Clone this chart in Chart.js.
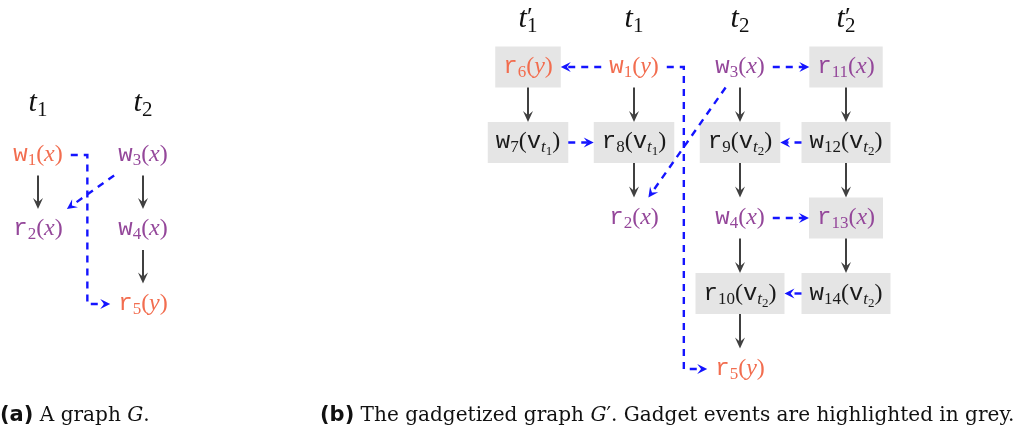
<!DOCTYPE html>
<html>
<head>
<meta charset="utf-8">
<script src="https://cdn.jsdelivr.net/npm/chart.js@4.4.1/dist/chart.umd.min.js"></script>
<style>
  body { margin: 0; background: #fff; }
  canvas { display: block; }
</style>
</head>
<body>
<canvas id="fig" width="1021" height="434"></canvas>
<script>
// (a) the graph G
const aHeaders = ['t1', 't2'];
const aLabels = ['w1(x)', 'r2(x)', 'w3(x)', 'w4(x)', 'r5(y)'];
const aCols = [0, 0, 1, 1, 1];
const aRows = [1, 2, 1, 2, 3];
const aTone = ['o', 'p', 'p', 'p', 'o'];           // o = orange, p = purple, k = black
const aGadget = [false, false, false, false, false];
const aOrder = [[0, 1], [2, 3], [3, 4]];          // black arrows
const aFlow = [[2, 1]];                            // blue dashed arrows
const aFlowRouted = [[0, 4, 0.47]];                // blue dashed, via column

// (b) the gadgetized graph G'
const bHeaders = ["t'1", 't1', 't2', "t'2"];
const bLabels = ['r6(y)', 'w1(y)', 'w3(x)', 'r11(x)',
                 'w7(vt1)', 'r8(vt1)', 'r9(vt2)', 'w12(vt2)',
                 'r2(x)', 'w4(x)', 'r13(x)',
                 'r10(vt2)', 'w14(vt2)',
                 'r5(y)'];
const bCols = [0, 1, 2, 3,  0, 1, 2, 3,  1, 2, 3,  2, 3,  2];
const bRows = [1, 1, 1, 1,  2, 2, 2, 2,  3, 3, 3,  4, 4,  5];
const bTone = ['o', 'o', 'p', 'p',  'k', 'k', 'k', 'k',  'p', 'p', 'p',  'k', 'k',  'o'];
const bGadget = [true, false, false, true,  true, true, true, true,
                 false, false, true,  true, true,  false];
const bOrder = [[0, 4], [1, 5], [5, 8], [2, 6], [6, 9], [9, 11], [11, 13],
                [3, 7], [7, 10], [10, 12]];
const bFlow = [[1, 0], [2, 3], [4, 5], [7, 6], [9, 10], [12, 11], [2, 8]];
const bFlowRouted = [[1, 13, 1.47]];

const captionA = ['(a)', 'A graph ', 'G', '.'];
const captionB = ['(b)', 'The gadgetized graph ', 'G', '′', '. Gadget events are highlighted in grey.'];

const S = 24;          // node label size
const SUB = 17;
const PAD = 8;         // inner sep of nodes
const HALF_H = 20.5;
const TONES = { p: '#94479a', o: '#f26d4f', k: '#1a1a1a' };
const BOX = '#e5e5e5';
const BLACK = { color: '#404040', width: 2, dash: [], head: 11, half: 5 };
const BLUE = { color: '#1414ff', width: 2.4, dash: [7, 6], head: 10, half: 5 };

function fontOf(r) {
  switch (r.k) {
    case 'tt': return r.s + 'px "Liberation Mono", "Courier New", Courier, monospace';
    case 'it': return 'italic ' + r.s + 'px "Liberation Serif", serif';
    case 'bf': return 'bold ' + r.s + 'px "DejaVu Sans", sans-serif';
    case 'cap': return r.s + 'px "DejaVu Serif", serif';
    case 'capit': return 'italic ' + r.s + 'px "DejaVu Serif", serif';
    default: return r.s + 'px "Liberation Serif", serif';
  }
}

function labelRuns(label) {
  const m = label.match(/^([wr])(\d+)\((\w+)\)$/);
  const arg = m[3];
  const runs = [
    { t: m[1], k: 'tt', s: S },
    { t: m[2], k: 'rm', s: SUB, dy: 4 },
    { t: '(', k: 'rm', s: S }
  ];
  if (arg[0] === 'v') {
    runs.push({ t: 'v', k: 'tt', s: S },
              { t: 't', k: 'it', s: SUB, dy: 4 },
              { t: arg.slice(2), k: 'rm', s: 13, dy: 7 });
  } else {
    runs.push({ t: arg, k: 'it', s: S });
  }
  runs.push({ t: ')', k: 'rm', s: S });
  return runs;
}

function headerRuns(h) {
  const m = h.match(/^t('?)(\d)$/);
  const runs = [{ t: 't', k: 'it', s: 30 }];
  if (m[1]) runs.push({ t: '′', k: 'rm', s: 26, dy: -2, stack: true });
  runs.push({ t: m[2], k: 'rm', s: 21, dy: 5 });
  return runs;
}

function layoutRuns(ctx, runs) {
  let x = 0, pend = 0;
  const placed = [];
  runs.forEach(r => {
    ctx.font = fontOf(r);
    const w = ctx.measureText(r.t).width;
    placed.push({ r, x });
    if (r.stack) pend = w;
    else { x += Math.max(w, pend); pend = 0; }
  });
  return { placed, width: x };
}

function drawRuns(ctx, runs, x, y, color, center) {
  const L = layoutRuns(ctx, runs);
  const x0 = center ? x - L.width / 2 : x;
  ctx.fillStyle = color;
  ctx.textAlign = 'left';
  ctx.textBaseline = 'alphabetic';
  L.placed.forEach(p => {
    ctx.font = fontOf(p.r);
    ctx.fillText(p.r.t, x0 + p.x, y + (p.r.dy || 0));
  });
  return L.width;
}

function boxExit(n, dx, dy) {
  const tx = dx ? n.hw / Math.abs(dx) : Infinity;
  const ty = dy ? n.hh / Math.abs(dy) : Infinity;
  const t = Math.min(tx, ty);
  return [n.cx + dx * t, n.cy + dy * t];
}

function arrow(ctx, pts, st) {
  const n = pts.length;
  const [tx, ty] = pts[n - 1];
  const [px, py] = pts[n - 2];
  const ang = Math.atan2(ty - py, tx - px);
  const c = Math.cos(ang), s = Math.sin(ang);
  ctx.save();
  ctx.strokeStyle = st.color;
  ctx.lineWidth = st.width;
  ctx.setLineDash(st.dash);
  ctx.beginPath();
  ctx.moveTo(pts[0][0], pts[0][1]);
  for (let i = 1; i < n - 1; i++) ctx.lineTo(pts[i][0], pts[i][1]);
  ctx.lineTo(tx - c * st.head * 0.6, ty - s * st.head * 0.6);
  ctx.stroke();
  ctx.setLineDash([]);
  ctx.fillStyle = st.color;
  const L = st.head, H = st.half;
  const pt = (a, b) => [tx + a * c - b * s, ty + a * s + b * c];
  ctx.beginPath();
  ctx.moveTo(tx, ty);
  ctx.lineTo(...pt(-L, H));
  ctx.lineTo(...pt(-L * 0.62, 0));
  ctx.lineTo(...pt(-L, -H));
  ctx.closePath();
  ctx.fill();
  ctx.restore();
}

function drawPanel(chart, ctx, p) {
  const meta = chart.getDatasetMeta(p.dataset).data;
  const nodes = p.labels.map((lab, i) => {
    const runs = labelRuns(lab);
    const w = layoutRuns(ctx, runs).width;
    return { cx: meta[i].x, cy: meta[i].y, runs, color: TONES[p.tone[i]], w,
             hw: w / 2 + PAD, hh: HALF_H, gadget: p.gadget[i] };
  });
  nodes.forEach(n => {
    if (!n.gadget) return;
    ctx.fillStyle = BOX;
    ctx.fillRect(n.cx - n.hw, n.cy - n.hh, 2 * n.hw, 2 * n.hh);
  });
  nodes.forEach(n => drawRuns(ctx, n.runs, n.cx, n.cy + 0.25 * S, n.color, true));

  const sx = chart.scales[p.x], sy = chart.scales[p.y];
  p.headers.forEach((h, c) => {
    drawRuns(ctx, headerRuns(h), sx.getPixelForValue(c), sy.getPixelForValue(p.headerRow), '#111', true);
  });

  const straight = (e, st) => {
    const A = nodes[e[0]], B = nodes[e[1]];
    const dx = B.cx - A.cx, dy = B.cy - A.cy;
    arrow(ctx, [boxExit(A, dx, dy), boxExit(B, -dx, -dy)], st);
  };
  p.order.forEach(e => straight(e, BLACK));
  p.flow.forEach(e => straight(e, BLUE));
  p.routed.forEach(e => {
    const A = nodes[e[0]], B = nodes[e[1]];
    const vx = sx.getPixelForValue(e[2]);
    arrow(ctx, [[A.cx + A.hw, A.cy], [vx, A.cy], [vx, B.cy], [B.cx - B.hw, B.cy]], BLUE);
  });
}

function captionRuns(parts, s) {
  const runs = [{ t: parts[0], k: 'bf', s: 21 }, { t: ' ' + parts[1], k: 'cap', s }, { t: parts[2], k: 'capit', s }];
  for (let i = 3; i < parts.length; i++) runs.push({ t: parts[i], k: 'cap', s });
  return runs;
}

const panels = [
  { dataset: 0, x: 'xa', y: 'ya', headerRow: 0.41, headers: aHeaders, labels: aLabels, tone: aTone,
    gadget: aGadget, order: aOrder, flow: aFlow, routed: aFlowRouted },
  { dataset: 1, x: 'xb', y: 'yb', headerRow: 0.47, headers: bHeaders, labels: bLabels, tone: bTone,
    gadget: bGadget, order: bOrder, flow: bFlow, routed: bFlowRouted }
];

const diagram = {
  id: 'diagram',
  afterDatasetsDraw(chart) {
    const ctx = chart.ctx;
    panels.forEach(p => drawPanel(chart, ctx, p));
    // fit caption (b) to the width of the original line
    let cs = 20;
    const wb = layoutRuns(ctx, captionRuns(captionB, cs)).width;
    cs = cs * 695 / wb;
    drawRuns(ctx, captionRuns(captionA, cs), 0, 421, '#111', false);
    drawRuns(ctx, captionRuns(captionB, cs), 320, 421, '#111', false);
  }
};

const points = (cols, rows) => cols.map((c, i) => ({ x: c, y: rows[i] }));

new Chart(document.getElementById('fig'), {
  type: 'scatter',
  data: {
    datasets: [
      { data: points(aCols, aRows), xAxisID: 'xa', yAxisID: 'ya', pointRadius: 0 },
      { data: points(bCols, bRows), xAxisID: 'xb', yAxisID: 'yb', pointRadius: 0 }
    ]
  },
  options: {
    responsive: false,
    animation: false,
    devicePixelRatio: 1,
    layout: { padding: 0 },
    plugins: { legend: { display: false }, tooltip: { enabled: false } },
    scales: {
      xa: { axis: 'x', type: 'linear', display: false, min: -0.3619, max: 9.3619 },
      ya: { axis: 'y', type: 'linear', display: false, reverse: true, min: -1.0805, max: 4.745 },
      xb: { axis: 'x', type: 'linear', display: false, min: -4.9811, max: 4.6509 },
      yb: { axis: 'y', type: 'linear', display: false, reverse: true, min: 0.1126, max: 5.8609 }
    }
  },
  plugins: [diagram]
});
</script>
</body>
</html>
